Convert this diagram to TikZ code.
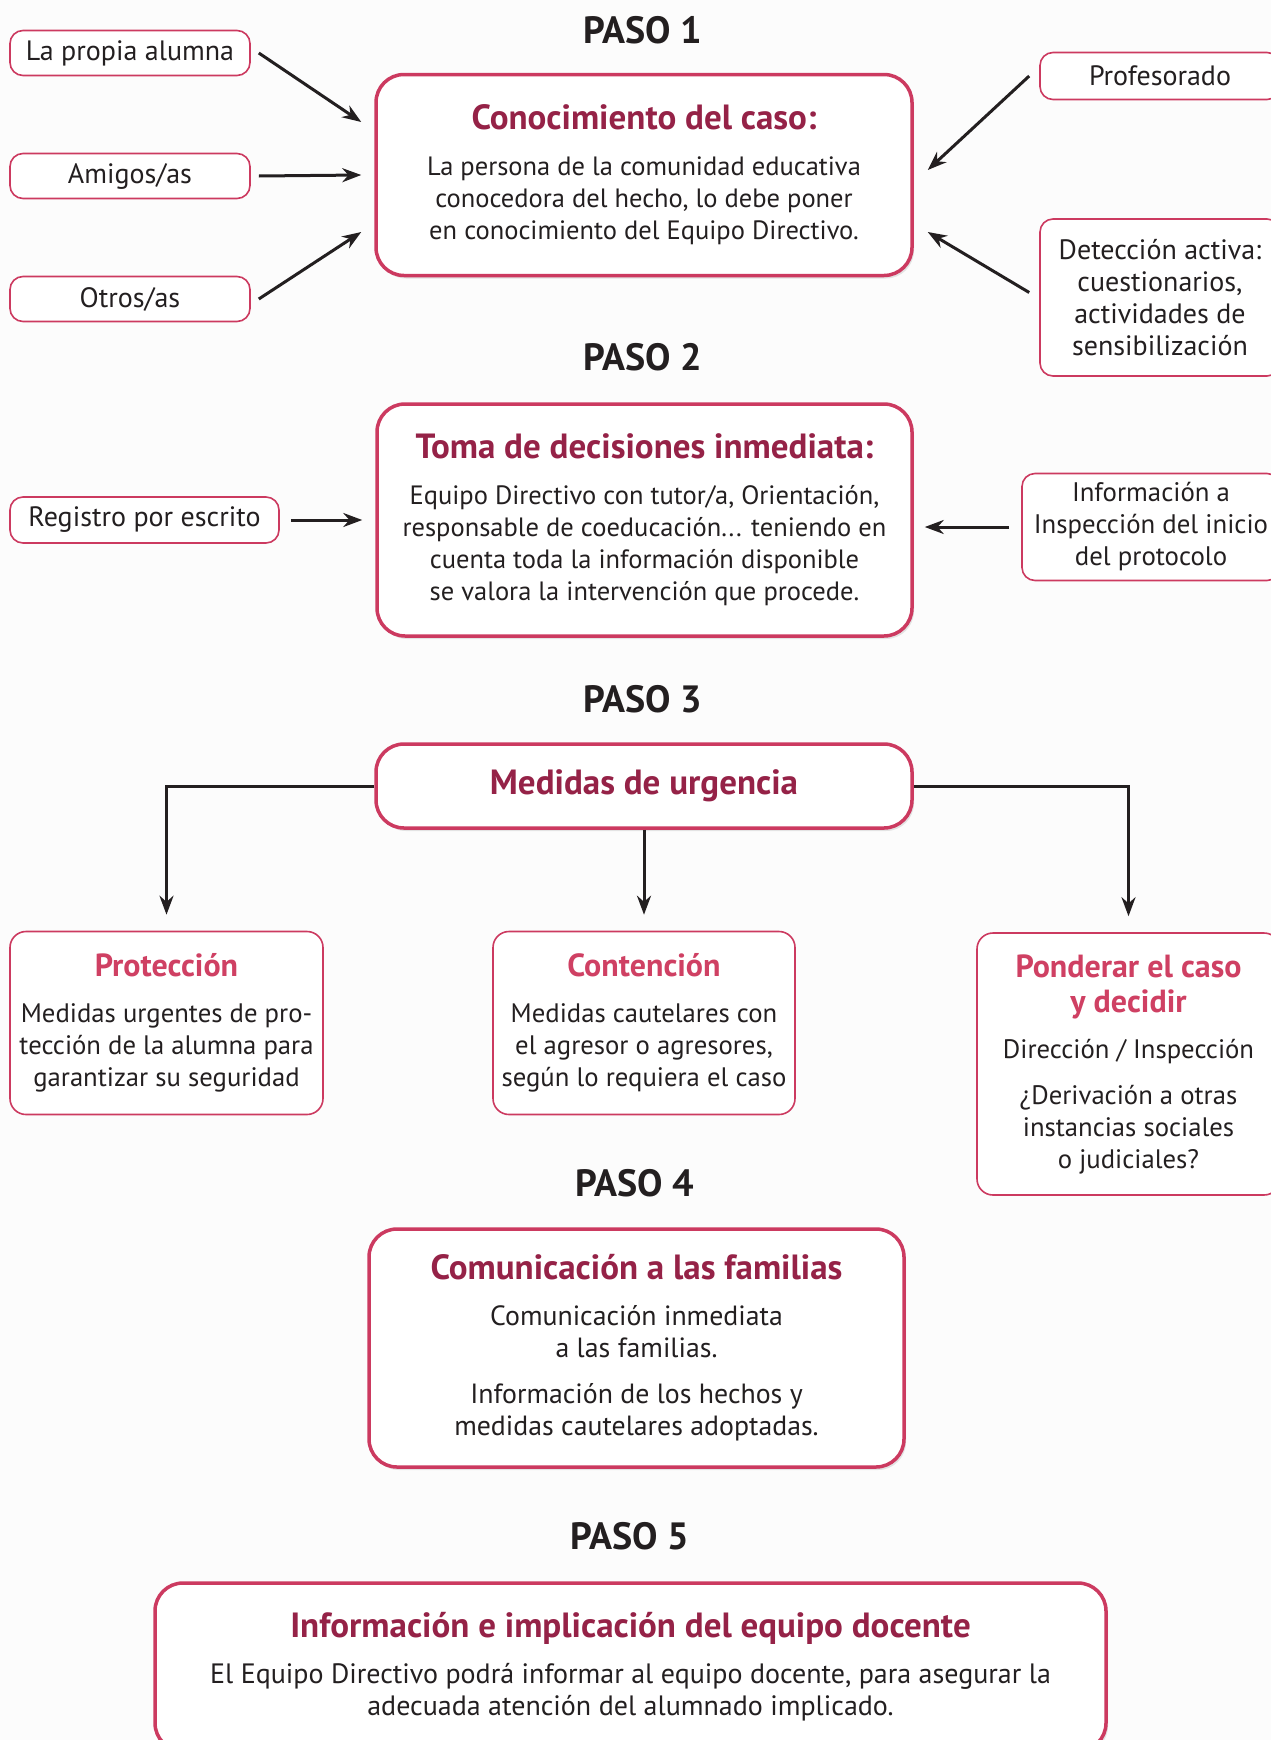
\documentclass[tikz,border=0pt]{standalone}
\usepackage{fontspec}
\setmainfont{PT Sans}
\usetikzlibrary{arrows.meta,shadows}
\definecolor{vino}{RGB}{149,34,71}
\definecolor{rosa}{RGB}{204,58,96}
\definecolor{rosaclaro}{RGB}{207,64,99}
\definecolor{tinta}{RGB}{35,31,32}
\newcommand{\titulo}[1]{{\color{vino}\fontsize{35}{38}\selectfont\bfseries #1}}
\newcommand{\subtitulo}[1]{{\color{rosaclaro}\fontsize{32}{35}\selectfont\bfseries #1}}
\tikzset{
  caja/.style={draw=rosa,line width=3.5pt,rounded corners=28pt,fill=white,align=center,text=tinta,
    drop shadow={opacity=0.2,shadow xshift=2pt,shadow yshift=-3pt},font=\fontsize{26.5}{32}\selectfont},
  etiqueta/.style={draw=rosa,line width=1.6pt,rounded corners=13pt,fill=white,align=center,text=tinta,
    font=\fontsize{28}{32}\selectfont,inner sep=0pt},
  paso/.style={font=\fontsize{38}{42}\selectfont\bfseries,text=tinta},
  flecha/.style={draw=tinta,line width=3pt,-{Stealth[length=19pt,width=14pt]}}
}
\begin{document}
\begin{tikzpicture}[x=1pt,y=-1pt]
\useasboundingbox[fill=gray!2] (0,0) rectangle (1271,1740);
\node[paso] (paso1) at (643,30) {PASO 1};
\node[caja,minimum width=536pt,minimum height=201pt] (caso) at (644,175)
  {\titulo{Conocimiento del caso:}\\[14pt]
   La persona de la comunidad educativa\\
   conocedora del hecho, lo debe poner\\
   en conocimiento del Equipo Directivo.};
\node[etiqueta,minimum width=240pt,minimum height=45pt] (alumna) at (130,53) {La propia alumna};
\node[etiqueta,minimum width=240pt,minimum height=45pt] (amigos) at (130,176) {Amigos/as};
\node[etiqueta,minimum width=240pt,minimum height=45pt] (otros) at (130,299) {Otros/as};
\node[etiqueta,minimum width=240pt,minimum height=47pt] (profesorado) at (1160,76) {Profesorado};
\node[etiqueta,minimum width=240pt,minimum height=157pt] (deteccion) at (1160,297.5)
  {Detección activa:\\cuestionarios,\\actividades de\\sensibilización};
\draw[flecha] ([xshift=8pt]alumna.east) -- ([shift={(-13pt,53pt)}]caso.west);
\draw[flecha] ([xshift=8pt]amigos.east) -- ([xshift=-13pt]caso.west);
\draw[flecha] ([xshift=8pt]otros.east) -- ([shift={(-13pt,-57pt)}]caso.west);
\draw[flecha] ([xshift=-10pt]profesorado.west) -- ([shift={(14pt,5pt)}]caso.east);
\draw[flecha] ([shift={(-10pt,5pt)}]deteccion.west) -- ([shift={(14pt,-57pt)}]caso.east);

\node[paso] (paso2) at (643,357) {PASO 2};
\node[caja,minimum width=535pt,minimum height=232pt] (toma) at (644.5,520)
  {\titulo{Toma de decisiones inmediata:}\\[14pt]
   Equipo Directivo con tutor/a, Orientación,\\
   responsable de coeducación... teniendo en\\
   cuenta toda la información disponible\\
   se valora la intervención que procede.};
\node[etiqueta,minimum width=269pt,minimum height=46pt] (registro) at (144.5,520) {Registro por escrito};
\node[etiqueta,font=\fontsize{26.8}{32}\selectfont,minimum width=258pt,minimum height=107pt] (info) at (1151,527)
  {Información a\\Inspección del inicio\\del protocolo};
\draw[flecha] ([xshift=11pt]registro.east) -- ([xshift=-13pt]toma.west);
\draw[flecha,shorten <=12pt,shorten >=11pt] (info.west) -- (info.west -| toma.east);

\node[paso] (paso3) at (643,699) {PASO 3};
\node[caja,minimum width=536pt,minimum height=84pt] (urgencia) at (644,786) {\titulo{Medidas de urgencia}};
\node[etiqueta,font=\fontsize{26.7}{32}\selectfont,rounded corners=16pt,minimum width=313pt,minimum height=183pt] (proteccion) at (166.5,1023)
  {\subtitulo{Protección}\\[14pt]
   Medidas urgentes de pro-\\
   tección de la alumna para\\
   garantizar su seguridad};
\node[etiqueta,font=\fontsize{26.7}{32}\selectfont,rounded corners=16pt,minimum width=302pt,minimum height=183pt] (contencion) at (644,1023)
  {\subtitulo{Contención}\\[14pt]
   Medidas cautelares con\\
   el agresor o agresores,\\
   según lo requiera el caso};
\node[etiqueta,font=\fontsize{26.7}{32}\selectfont,rounded corners=16pt,minimum width=303pt,minimum height=262pt] (ponderar) at (1128.5,1064)
  {\subtitulo{Ponderar el caso}\\[3pt]
   \subtitulo{y decidir}\\[14pt]
   Dirección / Inspección\\[14pt]
   ¿Derivación a otras\\
   instancias sociales\\
   o judiciales?};
\draw[flecha,shorten >=16pt] (urgencia.west) -| (proteccion.north);
\draw[flecha,shorten >=16pt] (urgencia.south) -- (contencion.north);
\draw[flecha,shorten >=16pt] (urgencia.east) -| (ponderar.north);

\node[paso] (paso4) at (635,1183) {PASO 4};
\node[caja,font=\fontsize{27.8}{32}\selectfont,minimum width=535pt,minimum height=238pt] (familias) at (636.5,1348)
  {\titulo{Comunicación a las familias}\\[14pt]
   Comunicación inmediata\\
   a las familias.\\[14pt]
   Información de los hechos y\\
   medidas cautelares adoptadas.};

\node[paso] (paso5) at (630,1536) {PASO 5};
\node[caja,font=\fontsize{28}{32}\selectfont,minimum width=951pt,minimum height=168pt] (docente) at (630.5,1667)
  {\titulo{Información e implicación del equipo docente}\\[14pt]
   El Equipo Directivo podrá informar al equipo docente, para asegurar la\\
   adecuada atención del alumnado implicado.};
\end{tikzpicture}
\end{document}
